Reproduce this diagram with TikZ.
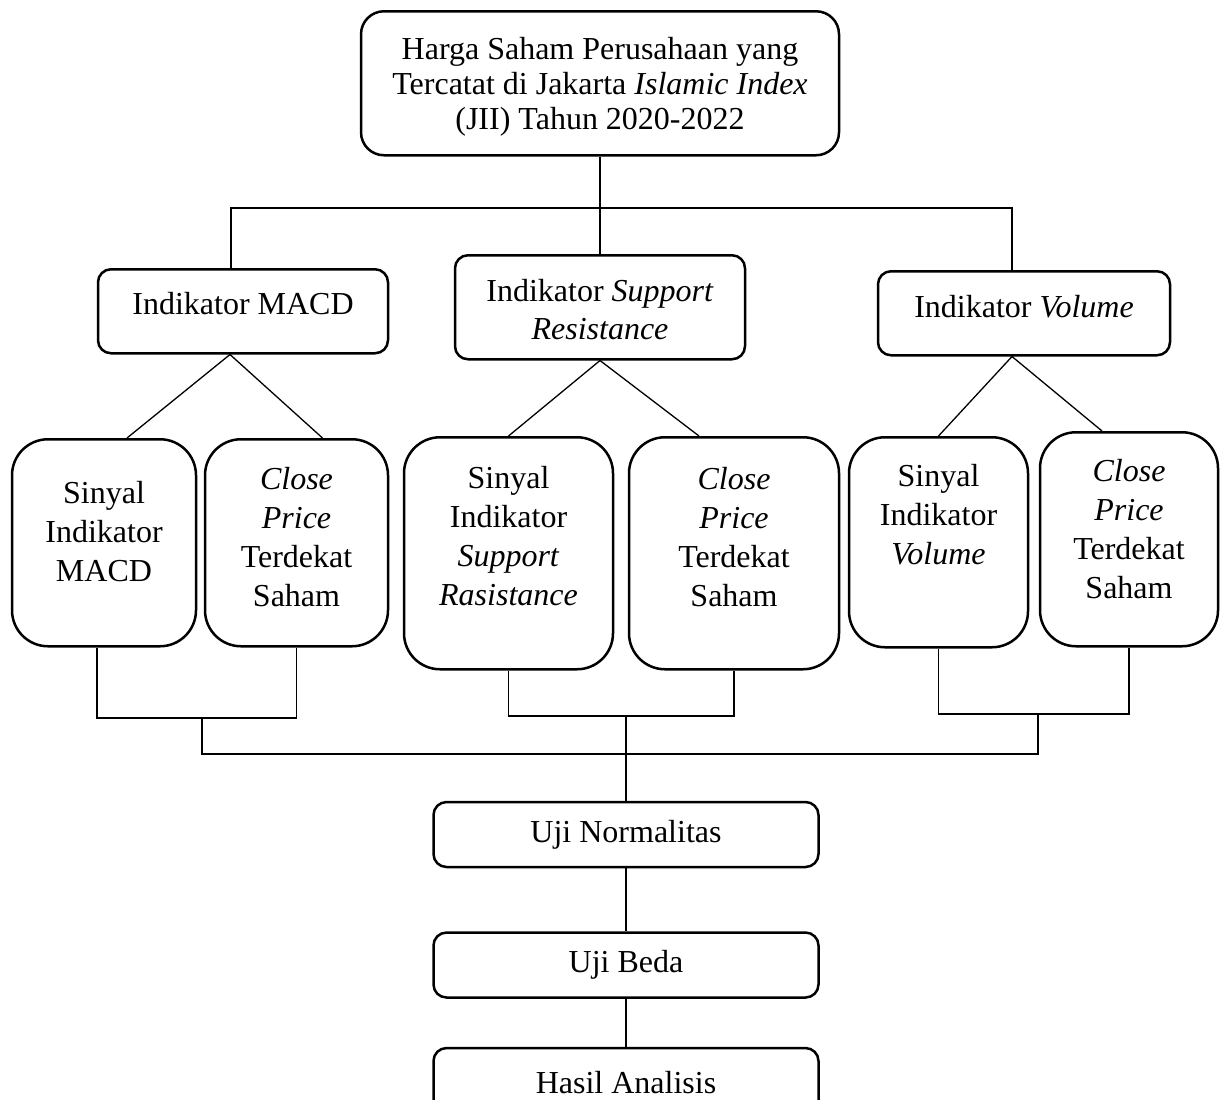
\documentclass[tikz,border=0pt]{standalone}
\usepackage{fontspec}
\setmainfont{Liberation Serif}
\usetikzlibrary{positioning}
\tikzset{mybox/.style={draw, line width=1.25pt, align=center, inner sep=0pt,
font=\fontsize{16}{19.5}\selectfont}}

\begin{document}
\begin{tikzpicture}[x=0.5pt, y=-0.5pt, line width=0.65pt,
	tall/.style={mybox, anchor=north, rounded corners=18pt},
	flat/.style={mybox, rounded corners=6.5pt},
	ujibox/.style={flat, minimum width=192.5pt, minimum height=32.5pt}]
	\useasboundingbox (0,0) rectangle (1224,1099);
	\clip (0,0) rectangle (1224,1099);
	\node[flat, anchor=north, rounded corners=11.5pt, minimum width=239pt, text height=59pt, text depth=13pt,
		font=\fontsize{16}{17.5}\selectfont] (harga) at (600,10)
		{Harga Saham Perusahaan yang\\Tercatat di Jakarta \textit{Islamic Index}\\(JII) Tahun 2020-2022};
	\node[flat, anchor=north, minimum width=145pt, text height=22.5pt, text depth=19.5pt] (macd) at (243,268) {Indikator MACD};
	\node[flat, anchor=north, minimum width=145pt, text height=42pt, text depth=10pt,
		font=\fontsize{16}{19}\selectfont] (sr) at (600,254) {Indikator \textit{Support}\\\textit{Resistance}};
	\node[flat, anchor=north, minimum width=146pt, text height=23pt, text depth=19pt] (vol) at (1024,270) {Indikator \textit{Volume}};
	\node[tall, minimum width=92pt, text height=71pt, text depth=32.5pt] (smacd) at (104,438) {Sinyal\\Indikator\\MACD};
	\node[tall, minimum width=91.5pt, text height=83.5pt, text depth=20pt] (cmacd) at (296.5,438) {\textit{Close}\\\textit{Price}\\Terdekat\\Saham};
	\node[tall, minimum width=104.5pt, text height=84pt, text depth=32pt] (ssr) at (508.5,436) {Sinyal\\Indikator\\\textit{Support}\\\textit{Rasistance}};
	\node[tall, minimum width=105pt, text height=84.5pt, text depth=31.5pt] (csr) at (734,436) {\textit{Close}\\\textit{Price}\\Terdekat\\Saham};
	\node[tall, minimum width=89.5pt, text height=63.5pt, text depth=41.5pt] (svol) at (938.5,436) {Sinyal\\Indikator\\\textit{Volume}};
	\node[tall, minimum width=89pt, text height=83pt, text depth=24pt] (cvol) at (1129,431) {\textit{Close}\\\textit{Price}\\Terdekat\\Saham};
	\node[ujibox] (uji) at (626,834.5) {Uji Normalitas};
	\node[ujibox, below=31.5pt of uji] (beda) {Uji Beda};
	\node[ujibox, minimum height=35pt, below=24pt of beda] (hasil) {Hasil Analisis};
	\coordinate (atas) at (600,208);
	\coordinate (g1) at (202,718);
	\coordinate (g2) at (626,716);
	\coordinate (g3) at (1038,714);
	\coordinate (bus) at (626,754);
	\draw (harga) -- (sr);
	\draw ([xshift=-6pt]macd.north) |- (atas) -| ([xshift=-6pt]vol.north);
	\draw ([xshift=-6.5pt]macd.south) -- ([xshift=11.5pt]smacd.north);
	\draw ([xshift=-6.5pt]macd.south) -- ([xshift=13pt]cmacd.north);
	\draw (sr.south) -- (ssr.north);
	\draw (sr.south) -- ([xshift=-17.5pt]csr.north);
	\draw ([xshift=-6pt]vol.south) -- (svol.north);
	\draw ([xshift=-6pt]vol.south) -- ([xshift=-13.5pt]cvol.north);
	\draw ([xshift=-3.5pt]smacd.south) |- (g1) -| (cmacd.south);
	\draw (ssr.south) |- (g2) -| (csr.south);
	\draw (svol.south) |- (g3) -| (cvol.south);
	\draw (g1) |- (bus) -| (g3);
	\draw (g2) -- (uji);
	\draw (uji) -- (beda);
	\draw (beda) -- (hasil);
\end{tikzpicture}
\end{document}
